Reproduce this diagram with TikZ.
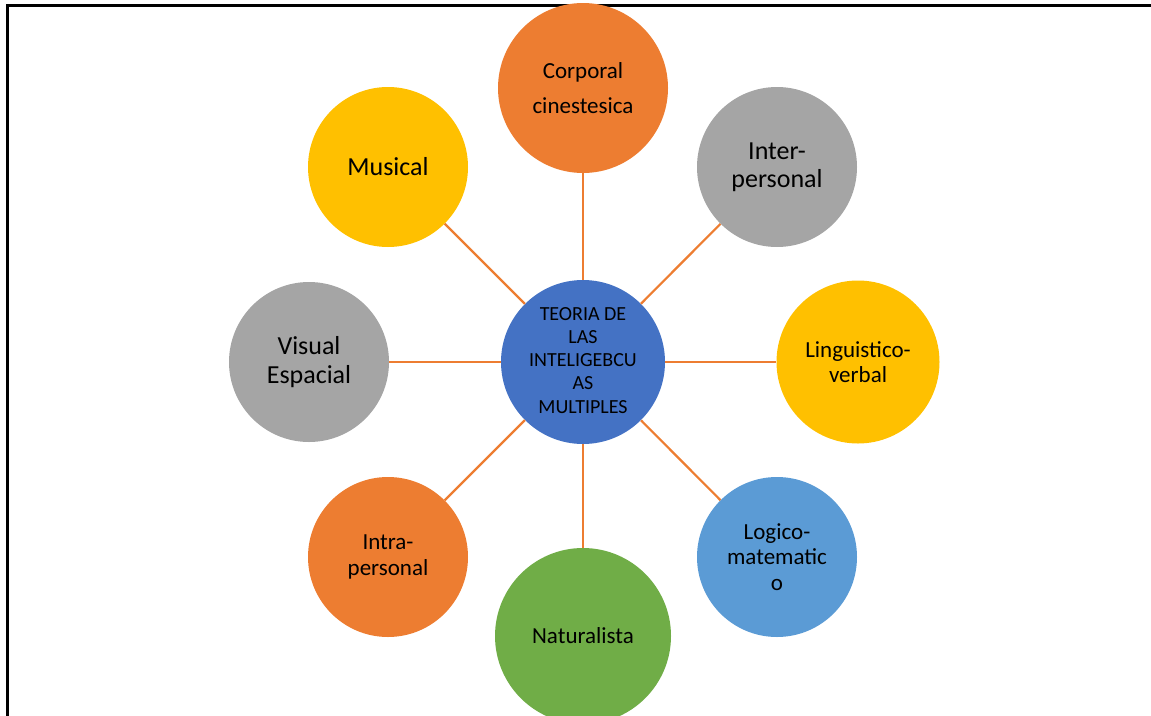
\documentclass[tikz,border=0pt]{standalone}
\usepackage{fontspec}
\setmainfont{Carlito}
\definecolor{hubblue}{HTML}{4472C4}
\definecolor{accorange}{HTML}{ED7D31}
\definecolor{accgray}{HTML}{A5A5A5}
\definecolor{accyellow}{HTML}{FFC000}
\definecolor{acclight}{HTML}{5B9BD5}
\definecolor{accgreen}{HTML}{70AD47}
\begin{document}
\begin{tikzpicture}[x=1pt,y=-1pt,
  bubble/.style={circle, inner sep=0pt, minimum size=160pt, align=center, text=black},
  bigtext/.style={font=\fontsize{26}{28}\selectfont},
  midtext/.style={font=\fontsize{23}{25.5}\selectfont},
  link/.style={draw=accorange, line width=2.2pt}]
\useasboundingbox (0,0) rectangle (1151,715);
\clip (0,0) rectangle (1151,715);

% frame around the figure
\draw[line width=2.2pt] (7.5,720) -- (7.5,5.5) -- (1160,5.5);

% hub
\node[bubble, fill=hubblue, minimum size=164pt, font=\fontsize{20}{23.3}\selectfont]
  (hub) at (583,362) {\raisebox{2pt}{\begin{tabular}{@{}c@{}}TEORIA DE\\LAS\\INTELIGEBCU\\AS\\MULTIPLES\end{tabular}}};

% the eight intelligences
\node[bubble, fill=accorange, minimum size=170pt, font=\fontsize{23}{35}\selectfont]
  (corp) at (583,88) {Corporal\\cinestesica};
\node[bubble, fill=accgray, bigtext] (inter) at (777,167) {Inter-\\personal};
\node[bubble, fill=accyellow, minimum size=163pt, midtext] (ling) at (858,362) {Linguistico-\\verbal};
\node[bubble, fill=acclight, midtext] (logi) at (777,557) {Logico-\\matematic\\o};
\node[bubble, fill=accgreen, minimum size=176pt, midtext] (natu) at (583,636) {Naturalista};
\node[bubble, fill=accorange, midtext] (intra) at (388,557) {Intra-\\personal};
\node[bubble, fill=accgray, font=\fontsize{26}{29}\selectfont] (visu) at (309,362) {Visual\\Espacial};
\node[bubble, fill=accyellow, bigtext] (musi) at (388,167) {Musical};

% spokes
\foreach \n in {corp,inter,ling,logi,natu,intra,visu,musi}
  \draw[link] (hub) -- (\n);
\end{tikzpicture}
\end{document}
